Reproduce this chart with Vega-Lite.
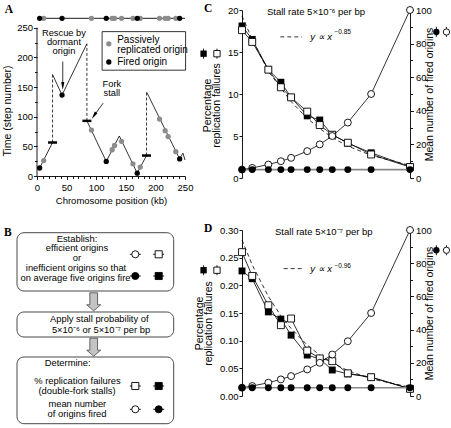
{
"$schema":"https://vega.github.io/schema/vega-lite/v6.json",
"padding":{"left":2,"top":3,"right":0,"bottom":0},
"bounds":"flush",
"columns":2,
"spacing":{"row":52,"column":57},
"config":{
 "view":{"stroke":null},
 "font":"Liberation Sans",
 "axis":{"domainColor":"#000","domainWidth":0.9,"tickColor":"#000","tickWidth":0.9,"tickSize":3,"labelColor":"#000","labelFontSize":9.5,"labelFont":"Liberation Sans","titleColor":"#000","titleFont":"Liberation Sans","titleFontWeight":"normal","grid":false,"labelPadding":2,"labelFlush":false,"labelOverlap":false},
 "text":{"font":"Liberation Sans","fontSize":9.5,"color":"#000"},
 "line":{"color":"#000","strokeWidth":0.8},
 "rule":{"color":"#000","strokeWidth":0.8}
},
"datasets":{
 "aOrig":[{"x":11.3,"y":26,"t":"p"},{"x":92,"y":77.5,"t":"p"},{"x":127,"y":44.3,"t":"p"},{"x":131,"y":51.5,"t":"p"},{"x":142.8,"y":58.5,"t":"p"},{"x":162,"y":20.6,"t":"p"},{"x":174.4,"y":15,"t":"p"},{"x":207,"y":96,"t":"p"},{"x":216.5,"y":76.5,"t":"p"},{"x":221.5,"y":66.5,"t":"p"},{"x":234.5,"y":41,"t":"p"},{"x":4.5,"y":13.5,"t":"f"},{"x":42.3,"y":136.5,"t":"f"},{"x":117,"y":24.5,"t":"f"},{"x":169.3,"y":4.8,"t":"f"},{"x":241,"y":28.8,"t":"f"}],
 "aTop":[{"x":11.3,"y":266,"t":"p"},{"x":92,"y":266,"t":"p"},{"x":127,"y":266,"t":"p"},{"x":131,"y":266,"t":"p"},{"x":142.8,"y":266,"t":"p"},{"x":162,"y":266,"t":"p"},{"x":174.4,"y":266,"t":"p"},{"x":207,"y":266,"t":"p"},{"x":216.5,"y":266,"t":"p"},{"x":221.5,"y":266,"t":"p"},{"x":234.5,"y":266,"t":"p"},{"x":4.5,"y":266,"t":"f"},{"x":42.3,"y":266,"t":"f"},{"x":117,"y":266,"t":"f"},{"x":169.3,"y":266,"t":"f"},{"x":241,"y":266,"t":"f"}],
 "aFork":[{"g":1,"o":1,"x":4.5,"y":13.5},{"g":1,"o":2,"x":26.3,"y":56.5},
  {"g":2,"o":1,"x":26.3,"y":171},{"g":2,"o":2,"x":42.3,"y":136.5},{"g":2,"o":3,"x":84.3,"y":223},
  {"g":3,"o":1,"x":84.3,"y":93},{"g":3,"o":2,"x":117,"y":24.5},{"g":3,"o":3,"x":139,"y":67.5},{"g":3,"o":4,"x":169.3,"y":4.8},{"g":3,"o":5,"x":185,"y":34.5},
  {"g":4,"o":1,"x":185.5,"y":141},{"g":4,"o":2,"x":241,"y":28.8},{"g":4,"o":3,"x":246.5,"y":38.5},{"g":4,"o":4,"x":250,"y":27}],
 "aDash":[{"x":26.3,"y":56.5,"y2":171},{"x":84.3,"y":93,"y2":223},{"x":185,"y":34.5,"y2":141}],
 "aStall":[{"x":26.3,"y":56.5},{"x":84.3,"y":93},{"x":185,"y":34.5}],
 "aArrow":[{"x":43.5,"y":193,"x2":43.5,"y2":152},{"x":111.7,"y":122.8,"x2":96.2,"y2":101.6}],
 "aHead":[{"x":43.5,"y":151.7,"a":180},{"x":96.2,"y":101.6,"a":213}],
 "aTxtC":[{"x":45.5,"y":241,"text":"Rescue by"},{"x":45.5,"y":226,"text":"dormant"},{"x":45.5,"y":211,"text":"origin"},{"x":126.5,"y":154.7,"text":"Fork"},{"x":126.5,"y":140,"text":"stall"}],
 "aTxtL":[{"x":135.4,"y":228.7,"text":"Passively"},{"x":135.4,"y":212,"text":"replicated origin"},{"x":135.4,"y":192.3,"text":"Fired origin"}],
 "aLeg":[{"x":121.3,"y":223,"t":"p"},{"x":121.3,"y":192.3,"t":"f"}],
 "bBox":[{"x":0,"x2":156.7,"y":0.7,"y2":59},{"x":0,"x2":156.7,"y":80,"y2":105},{"x":0,"x2":156.7,"y":125,"y2":191.7}],
 "bArrow":[{"x":76.7,"y":69.8},{"x":76.7,"y":115.2}],
 "bTxt":[{"x":60,"y":6.5,"text":"Establish:"},{"x":60,"y":16.3,"text":"efficient origins"},{"x":60,"y":26.1,"text":"or"},{"x":59,"y":35.9,"text":"inefficient origins so that"},{"x":58.5,"y":45.8,"text":"on average five origins fire"},{"x":82.3,"y":87.3,"text":"Apply stall probability of"},{"x":84,"y":98.3,"text":"5×10⁻⁶ or 5×10⁻⁷ per bp"},{"x":50.7,"y":130.7,"text":"Determine:"},{"x":60.5,"y":148.5,"text":"% replication failures"},{"x":60,"y":158.5,"text":"(double-fork stalls)"},{"x":60.3,"y":172.3,"text":"mean number"},{"x":60,"y":182.3,"text":"of origins fired"}],
 "bSym":[{"x":118.3,"x1":112.8,"x2":123.8,"y":22.3,"s":"c","f":"o"},{"x":141.7,"x1":136.2,"x2":147.2,"y":22.3,"s":"s","f":"o"},{"x":118.3,"x1":112.8,"x2":123.8,"y":44,"s":"c","f":"f"},{"x":141.7,"x1":136.2,"x2":147.2,"y":44,"s":"s","f":"f"},{"x":118.3,"x1":112.8,"x2":123.8,"y":154,"s":"s","f":"o"},{"x":141.7,"x1":136.2,"x2":147.2,"y":154,"s":"s","f":"f"},{"x":118.3,"x1":112.8,"x2":123.8,"y":177.3,"s":"c","f":"o"},{"x":141.7,"x1":136.2,"x2":147.2,"y":177.3,"s":"c","f":"f"}],
 "cPF":[{"x":5,"v":18.1},{"x":6,"v":16.5},{"x":8,"v":12.9},{"x":10,"v":11.4},{"x":12,"v":9.6},{"x":16,"v":7.4},{"x":20,"v":6.9},{"x":25,"v":5.15},{"x":33,"v":4.15},{"x":50,"v":3.0},{"x":100,"v":1.35}],
 "cPO":[{"x":5,"v":17.6},{"x":6,"v":16.2},{"x":8,"v":12.9},{"x":10,"v":10.8},{"x":12,"v":9.6},{"x":16,"v":7.9},{"x":20,"v":6.3},{"x":25,"v":5.15},{"x":33,"v":4.2},{"x":50,"v":2.8},{"x":100,"v":1.3}],
 "cFit":[{"x":5,"v":19.3},{"x":6,"v":16.5},{"x":8,"v":12.7},{"x":10,"v":10.7},{"x":12,"v":9.1},{"x":16,"v":7.1},{"x":20,"v":5.9},{"x":25,"v":4.8},{"x":33,"v":3.8},{"x":50,"v":2.7},{"x":100,"v":1.5}],
 "dPF":[{"x":5,"v":0.226},{"x":6,"v":0.212},{"x":8,"v":0.152},{"x":10,"v":0.139},{"x":12,"v":0.11},{"x":16,"v":0.074},{"x":20,"v":0.067},{"x":25,"v":0.047},{"x":33,"v":0.04},{"x":50,"v":0.034},{"x":100,"v":0.013}],
 "dPO":[{"x":5,"v":0.26},{"x":6,"v":0.217},{"x":8,"v":0.164},{"x":10,"v":0.128},{"x":12,"v":0.14},{"x":16,"v":0.082},{"x":20,"v":0.068},{"x":25,"v":0.063},{"x":33,"v":0.041},{"x":50,"v":0.034},{"x":100,"v":0.013}],
 "dFit":[{"x":5,"v":0.282},{"x":6,"v":0.237},{"x":8,"v":0.18},{"x":10,"v":0.145},{"x":12,"v":0.122},{"x":16,"v":0.092},{"x":20,"v":0.074},{"x":25,"v":0.06},{"x":33,"v":0.046},{"x":50,"v":0.031},{"x":100,"v":0.016}],
 "mCO":[{"x":5,"m":5},{"x":6,"m":6},{"x":8,"m":8},{"x":10,"m":10},{"x":12,"m":12},{"x":16,"m":16},{"x":20,"m":20},{"x":25,"m":25},{"x":33,"m":33},{"x":50,"m":50},{"x":100,"m":100}],
 "mCF":[{"x":5,"m":5},{"x":6,"m":5},{"x":8,"m":5},{"x":10,"m":5},{"x":12,"m":5},{"x":16,"m":5},{"x":20,"m":5},{"x":25,"m":5},{"x":33,"m":5},{"x":50,"m":5},{"x":100,"m":5}]
},
"concat":[
  {"width":148,"height":166,
   "encoding":{
    "x":{"field":"x","type":"quantitative","scale":{"domain":[0,250],"nice":false,"zero":false},
      "axis":{"values":[0,10,20,30,40,50,60,70,80,90,100,110,120,130,140,150,160,170,180,190,200,210,220,230,240,250],"labelExpr":"datum.value % 50 == 0 ? datum.label : ''","title":"Chromosome position (kb)","titleFontSize":9.5,"labelPadding":3,"titlePadding":3,"tickSize":{"condition":{"test":"datum.value % 50 == 0","value":3.5},"value":2.5}}},
    "y":{"field":"y","type":"quantitative","scale":{"domain":[0,280],"nice":false,"zero":false},
      "axis":{"values":[0,25,50,75,100,125,150,175,200,225,250],"labelExpr":"datum.value % 50 == 0 ? datum.label : ''","domain":false,"title":"Time (step number)","titleFontSize":10.5,"titleY":100.5,"titlePadding":4,"labelPadding":1,"tickSize":{"condition":{"test":"datum.value % 50 == 0","value":3.5},"value":2.5}}}
   },
   "layer":[
    {"data":{"values":[{"x":110,"x2":251,"y":178.5,"y2":243.5}]},"mark":{"type":"rect","fill":"#fff","stroke":"#000","strokeWidth":0.8},"encoding":{"x2":{"field":"x2"},"y2":{"field":"y2"}}},
    {"data":{"values":[{"x":0,"y":0,"y2":250}]},"mark":{"type":"rule","strokeWidth":0.9},"encoding":{"y2":{"field":"y2"}}},
    {"data":{"values":[{"x":0,"x2":250,"y":266}]},"mark":{"type":"rule","strokeWidth":0.9},"encoding":{"x2":{"field":"x2"}}},
    {"data":{"name":"aDash"},"mark":{"type":"rule","strokeDash":[3,2]},"encoding":{"y2":{"field":"y2"}}},
    {"data":{"name":"aFork"},"mark":{"type":"line","strokeWidth":0.8},"encoding":{"detail":{"field":"g"},"order":{"field":"o"}}},
    {"data":{"name":"aStall"},"mark":{"type":"tick","orient":"horizontal","size":9,"thickness":2.5,"color":"#000","opacity":1}},
    {"data":{"name":"aArrow"},"mark":{"type":"rule","strokeWidth":0.8},"encoding":{"x2":{"field":"x2"},"y2":{"field":"y2"}}},
    {"data":{"name":"aHead"},"mark":{"type":"point","shape":"M0,-1L0.4,1L-0.4,1Z","filled":true,"color":"#000","size":64,"opacity":1},"encoding":{"angle":{"field":"a","type":"quantitative","scale":null}}},
    {"data":{"name":"aOrig"},"mark":{"type":"point","filled":true,"size":28,"opacity":1},"encoding":{"color":{"field":"t","type":"nominal","scale":{"domain":["p","f"],"range":["#8c8c8c","#000000"]},"legend":null}}},
    {"data":{"name":"aTop"},"mark":{"type":"point","filled":true,"size":28,"opacity":1},"encoding":{"color":{"field":"t","type":"nominal","scale":{"domain":["p","f"],"range":["#8c8c8c","#000000"]},"legend":null}}},
    {"data":{"name":"aLeg"},"mark":{"type":"point","filled":true,"size":28,"opacity":1},"encoding":{"color":{"field":"t","type":"nominal","scale":{"domain":["p","f"],"range":["#8c8c8c","#000000"]},"legend":null}}},
    {"data":{"name":"aTxtC"},"mark":{"type":"text","fontSize":9.3,"baseline":"middle"},"encoding":{"text":{"field":"text"}}},
    {"data":{"name":"aTxtL"},"mark":{"type":"text","fontSize":10,"align":"left","baseline":"middle"},"encoding":{"text":{"field":"text"}}},
    {"data":{"values":[{"x":-54.6,"y":275.4,"text":"A"}]},"mark":{"type":"text","align":"left","baseline":"alphabetic","font":"Liberation Serif","fontWeight":"bold","fontSize":11.5},"encoding":{"text":{"field":"text"}}}
   ]
  },
  {"width":168,"height":168,
   "layer":[
    {"encoding":{
      "x":{"field":"x","type":"quantitative","scale":{"type":"log","domain":[5,100],"nice":false},
        "axis":{"values":[5,6,7,8,9,10,20,30,40,50,60,70,80,90,100],"labelExpr":"indexof([5,10,20,30,40,50,100], datum.value) >= 0 ? datum.value + '' : ''","title":"Number of licensed origins per 250-kb cluster","titleFontSize":9.6,"labelPadding":3,"titlePadding":5,"tickSize":{"condition":{"test":"indexof([5,10,20,30,40,50,100], datum.value) >= 0","value":3.5},"value":2.5}}},
      "y":{"field":"v","type":"quantitative","scale":{"domain":[0,20],"nice":false,"zero":false},
        "axis":{"values":[0,5,10,15,20],"title":["Percentage","replication failures"],"titleFontSize":10.5,"titleLineHeight":9,"titleY":95,"titlePadding":6,"labelPadding":1}}},
     "layer":[
      {"data":{"name":"cFit"},"mark":{"type":"line","strokeDash":[4,3],"strokeWidth":0.8}},
      {"data":{"name":"cPF"},"mark":{"type":"line"}},
      {"data":{"name":"cPO"},"mark":{"type":"line"}},
      {"data":{"name":"cPF"},"mark":{"type":"point","shape":"square","filled":true,"color":"#000","size":48,"opacity":1}},
      {"data":{"name":"cPO"},"mark":{"type":"point","shape":"square","fill":"#fff","stroke":"#000","strokeWidth":0.9,"size":48,"opacity":1}},
      {"data":{"values":[{"x":2.52,"v":14.2,"v2":15.4},{"x":3.2,"v":14.2,"v2":15.4}]},"mark":{"type":"rule","strokeWidth":0.9},"encoding":{"y2":{"field":"v2"}}},
      {"data":{"values":[{"x":2.52,"v":14.8}]},"mark":{"type":"point","shape":"square","filled":true,"color":"#000","size":40,"opacity":1}},
      {"data":{"values":[{"x":3.2,"v":14.8}]},"mark":{"type":"point","shape":"square","fill":"#fff","stroke":"#000","strokeWidth":0.9,"size":40,"opacity":1}},
      {"data":{"values":[{"x":9.9,"x2":14.6,"v":16.8}]},"mark":{"type":"rule","strokeDash":[4,3]},"encoding":{"x2":{"field":"x2"}}},
      {"data":{"values":[{"x":16.9,"v":16.8,"text":"y ∝ x"}]},"mark":{"type":"text","align":"left","baseline":"middle","fontSize":9.5,"fontStyle":"italic"},"encoding":{"text":{"field":"text"}}},
      {"data":{"values":[{"x":26,"v":17.4,"text":"−0.85"}]},"mark":{"type":"text","align":"left","baseline":"middle","fontSize":6.5},"encoding":{"text":{"field":"text"}}},
      {"data":{"values":[{"x":18.7,"v":19.76,"text":"Stall rate 5×10⁻⁶ per bp"}]},"mark":{"type":"text","baseline":"middle","fontSize":9.5},"encoding":{"text":{"field":"text"}}},
      {"data":{"values":[{"x":2.54,"v":19.76,"text":"C"}]},"mark":{"type":"text","align":"left","baseline":"alphabetic","font":"Liberation Serif","fontWeight":"bold","fontSize":11.5},"encoding":{"text":{"field":"text"}}}
     ]},
    {"encoding":{
      "x":{"field":"x","type":"quantitative","scale":{"type":"log","domain":[5,100],"nice":false},"axis":null},
      "y":{"field":"m","type":"quantitative","scale":{"domain":[0,100],"nice":false,"zero":false},
        "axis":{"orient":"right","values":[0,10,20,30,40,50,60,70,80,90,100],"labelExpr":"datum.value % 20 == 0 ? datum.label : ''","title":"Mean number of fired origins","titleFontSize":10.5,"titleAngle":270,"titlePadding":3,"labelPadding":2,"tickSize":{"condition":{"test":"datum.value % 20 == 0","value":3.5},"value":2.5}}}},
     "layer":[
      {"data":{"name":"mCO"},"mark":{"type":"line"}},
      {"data":{"name":"mCF"},"mark":{"type":"line","color":"#888","strokeWidth":1.6}},
      {"data":{"name":"mCO"},"mark":{"type":"point","shape":"circle","fill":"#fff","stroke":"#000","strokeWidth":0.9,"size":48,"opacity":1}},
      {"data":{"name":"mCF"},"mark":{"type":"point","shape":"circle","filled":true,"color":"#000","size":48,"opacity":1}},
      {"data":{"values":[{"x":160,"m":84,"m2":90},{"x":191.5,"m":84,"m2":90}]},"mark":{"type":"rule","strokeWidth":0.9},"encoding":{"y2":{"field":"m2"}}},
      {"data":{"values":[{"x":160,"m":86.9}]},"mark":{"type":"point","shape":"circle","filled":true,"color":"#000","size":40,"opacity":1}},
      {"data":{"values":[{"x":191.5,"m":86.9}]},"mark":{"type":"point","shape":"circle","fill":"#fff","stroke":"#000","strokeWidth":0.9,"size":40,"opacity":1}}
     ]}
   ],
   "resolve":{"scale":{"y":"independent"}}
  },
  {"width":148,"height":195,
   "encoding":{
    "x":{"field":"x","type":"quantitative","scale":{"domain":[20,168],"nice":false,"zero":false},"axis":null},
    "y":{"field":"y","type":"quantitative","scale":{"domain":[-2,193],"nice":false,"zero":false,"reverse":true},"axis":null}
   },
   "layer":[
    {"data":{"name":"bBox"},"mark":{"type":"rect","fill":"#fff","stroke":"#333","strokeWidth":0.9,"cornerRadius":7},"encoding":{"x2":{"field":"x2"},"y2":{"field":"y2"}}},
    {"data":{"name":"bArrow"},"mark":{"type":"point","shape":"M-0.43,-1H0.43V0.33H0.78L0,1L-0.78,0.33H-0.43Z","size":324,"filled":true,"fill":"#c4c4c4","stroke":"#444","strokeWidth":0.8,"opacity":1}},
    {"data":{"name":"bTxt"},"mark":{"type":"text","fontSize":9.4,"baseline":"middle"},"encoding":{"text":{"field":"text"}}},
    {"data":{"name":"bSym"},"mark":{"type":"rule","strokeWidth":0.9},"encoding":{"x":{"field":"x1","type":"quantitative"},"x2":{"field":"x2"}}},
    {"data":{"name":"bSym"},"mark":{"type":"point","stroke":"#000","strokeWidth":0.9,"size":50,"opacity":1},"encoding":{"shape":{"field":"s","type":"nominal","scale":{"domain":["c","s"],"range":["circle","square"]},"legend":null},"fill":{"field":"f","type":"nominal","scale":{"domain":["o","f"],"range":["#ffffff","#000000"]},"legend":null}}},
    {"data":{"values":[{"x":-13,"y":4,"text":"B"}]},"mark":{"type":"text","align":"left","baseline":"alphabetic","font":"Liberation Serif","fontWeight":"bold","fontSize":11.5},"encoding":{"text":{"field":"text"}}}
   ]
  },
  {"width":168,"height":166,
   "layer":[
    {"encoding":{
      "x":{"field":"x","type":"quantitative","scale":{"type":"log","domain":[5,100],"nice":false},
        "axis":{"values":[5,6,7,8,9,10,20,30,40,50,60,70,80,90,100],"labelExpr":"indexof([5,10,20,30,40,50,100], datum.value) >= 0 ? datum.value + '' : ''","title":"Number of licensed origins per 250-kb cluster","titleFontSize":9.6,"labelPadding":0,"titlePadding":16,"tickSize":{"condition":{"test":"indexof([5,10,20,30,40,50,100], datum.value) >= 0","value":3.5},"value":2.5}}},
      "y":{"field":"v","type":"quantitative","scale":{"domain":[0,0.3],"nice":false,"zero":false},
        "axis":{"values":[0,0.05,0.1,0.15,0.2,0.25,0.3],"title":["Percentage","replication failures"],"titleFontSize":10.5,"titleLineHeight":9,"titleY":93,"titlePadding":6,"labelPadding":1}}},
     "layer":[
      {"data":{"name":"dFit"},"mark":{"type":"line","strokeDash":[4,3],"strokeWidth":0.8}},
      {"data":{"name":"dPF"},"mark":{"type":"line"}},
      {"data":{"name":"dPO"},"mark":{"type":"line"}},
      {"data":{"name":"dPF"},"mark":{"type":"point","shape":"square","filled":true,"color":"#000","size":48,"opacity":1}},
      {"data":{"name":"dPO"},"mark":{"type":"point","shape":"square","fill":"#fff","stroke":"#000","strokeWidth":0.9,"size":48,"opacity":1}},
      {"data":{"values":[{"x":2.52,"v":0.2183,"v2":0.2363},{"x":3.2,"v":0.2183,"v2":0.2363}]},"mark":{"type":"rule","strokeWidth":0.9},"encoding":{"y2":{"field":"v2"}}},
      {"data":{"values":[{"x":2.52,"v":0.2273}]},"mark":{"type":"point","shape":"square","filled":true,"color":"#000","size":40,"opacity":1}},
      {"data":{"values":[{"x":3.2,"v":0.2273}]},"mark":{"type":"point","shape":"square","fill":"#fff","stroke":"#000","strokeWidth":0.9,"size":40,"opacity":1}},
      {"data":{"values":[{"x":10.52,"x2":15.03,"v":0.2302}]},"mark":{"type":"rule","strokeDash":[4,3]},"encoding":{"x2":{"field":"x2"}}},
      {"data":{"values":[{"x":16.9,"v":0.2302,"text":"y ∝ x"}]},"mark":{"type":"text","align":"left","baseline":"middle","fontSize":9.5,"fontStyle":"italic"},"encoding":{"text":{"field":"text"}}},
      {"data":{"values":[{"x":26,"v":0.2345,"text":"−0.96"}]},"mark":{"type":"text","align":"left","baseline":"middle","fontSize":6.5},"encoding":{"text":{"field":"text"}}},
      {"data":{"values":[{"x":21.5,"v":0.2966,"text":"Stall rate 5×10⁻⁷ per bp"}]},"mark":{"type":"text","baseline":"middle","fontSize":9.5},"encoding":{"text":{"field":"text"}}},
      {"data":{"values":[{"x":2.54,"v":0.2966,"text":"D"}]},"mark":{"type":"text","align":"left","baseline":"alphabetic","font":"Liberation Serif","fontWeight":"bold","fontSize":11.5},"encoding":{"text":{"field":"text"}}}
     ]},
    {"encoding":{
      "x":{"field":"x","type":"quantitative","scale":{"type":"log","domain":[5,100],"nice":false},"axis":null},
      "y":{"field":"m","type":"quantitative","scale":{"domain":[0,100],"nice":false,"zero":false},
        "axis":{"orient":"right","values":[0,10,20,30,40,50,60,70,80,90,100],"labelExpr":"datum.value % 20 == 0 ? datum.label : ''","title":"Mean number of fired origins","titleFontSize":10.5,"titleAngle":270,"titlePadding":3,"labelPadding":2,"tickSize":{"condition":{"test":"datum.value % 20 == 0","value":3.5},"value":2.5}}}},
     "layer":[
      {"data":{"name":"mCO"},"mark":{"type":"line"}},
      {"data":{"name":"mCF"},"mark":{"type":"line","color":"#888","strokeWidth":1.6}},
      {"data":{"name":"mCO"},"mark":{"type":"point","shape":"circle","fill":"#fff","stroke":"#000","strokeWidth":0.9,"size":48,"opacity":1}},
      {"data":{"name":"mCF"},"mark":{"type":"point","shape":"circle","filled":true,"color":"#000","size":48,"opacity":1}},
      {"data":{"values":[{"x":160,"m":84.8,"m2":90.8},{"x":191.5,"m":84.8,"m2":90.8}]},"mark":{"type":"rule","strokeWidth":0.9},"encoding":{"y2":{"field":"m2"}}},
      {"data":{"values":[{"x":160,"m":87.8}]},"mark":{"type":"point","shape":"circle","filled":true,"color":"#000","size":40,"opacity":1}},
      {"data":{"values":[{"x":191.5,"m":87.8}]},"mark":{"type":"point","shape":"circle","fill":"#fff","stroke":"#000","strokeWidth":0.9,"size":40,"opacity":1}}
     ]}
   ],
   "resolve":{"scale":{"y":"independent"}}
  }
]
}
